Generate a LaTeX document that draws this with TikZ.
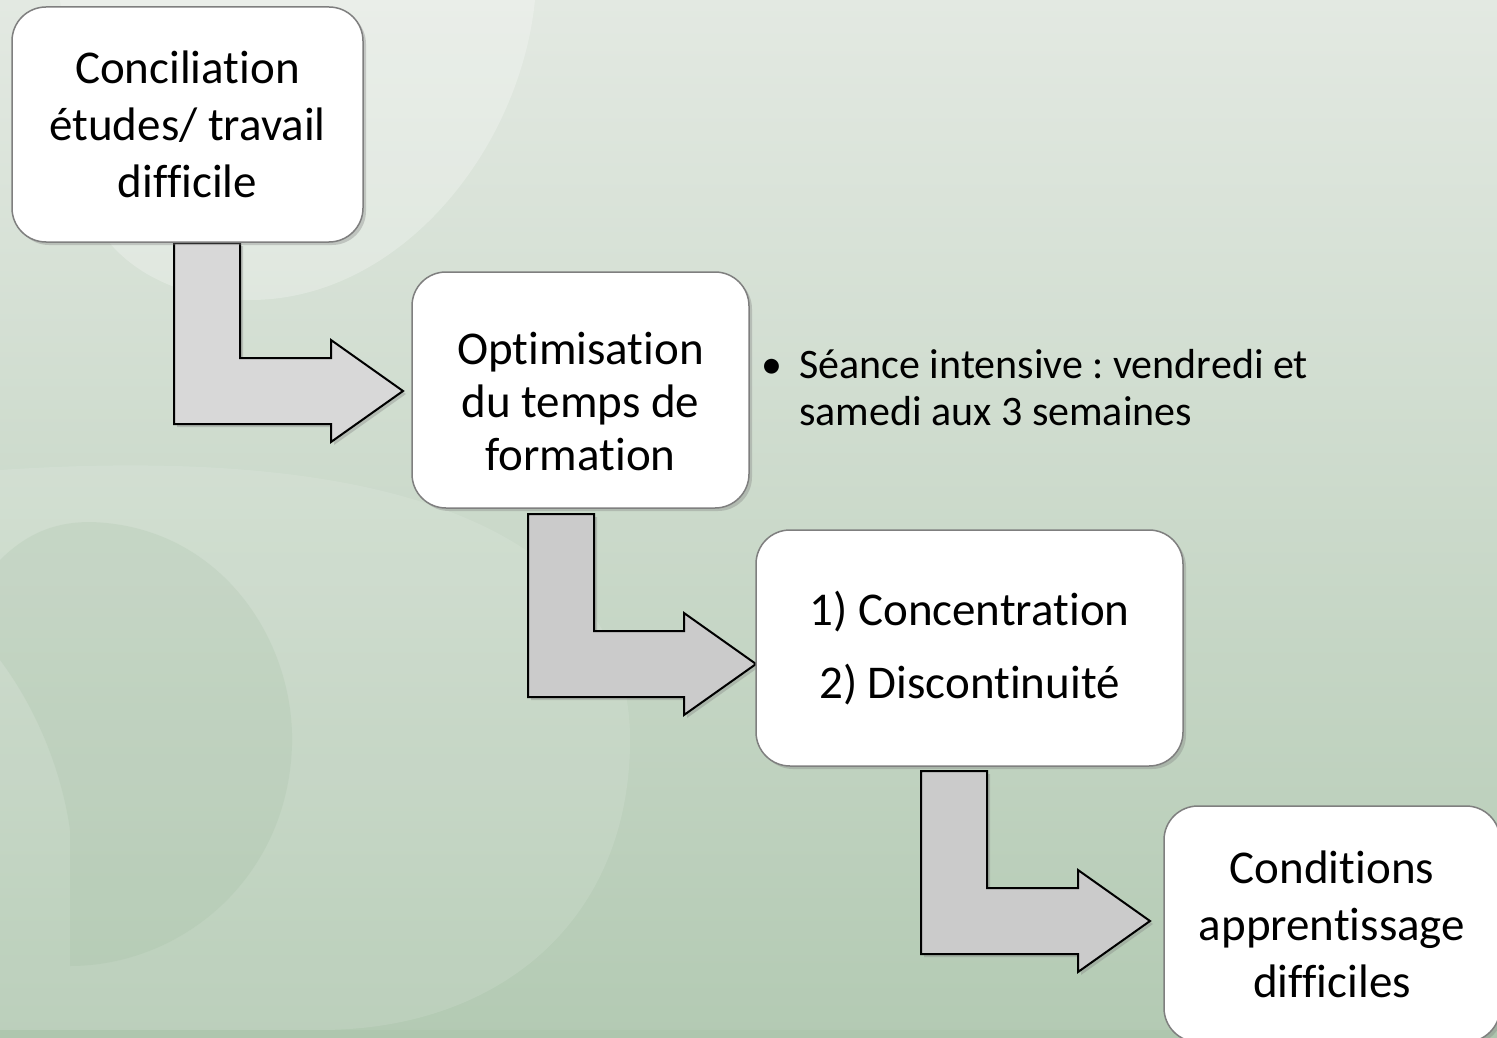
\documentclass[tikz,border=0pt]{standalone}
\usepackage{fontspec}
\setmainfont{Carlito}[Ligatures={NoCommon}]
\usetikzlibrary{shadows}
\definecolor{bgtop}{HTML}{E3E9E2}
\definecolor{bgbot}{HTML}{B3CAB3}
\definecolor{arrowgray}{HTML}{CBCBCB}
\definecolor{arrowlight}{HTML}{D8D8D8}
\definecolor{boxline}{HTML}{7F7F7F}
\definecolor{darkd}{HTML}{8FB08F}
\definecolor{strip}{HTML}{AEC6AE}
\frenchspacing
\tikzset{
  box/.style={draw=boxline, line width=1.5pt, fill=white, rounded corners=34pt,
    drop shadow={shadow xshift=3pt, shadow yshift=-3pt, opacity=0.35},
    inner sep=0pt, align=center, font=\fontsize{47}{57}\selectfont},
  boxtext/.style={inner sep=0pt, align=center, font=\fontsize{47}{53}\selectfont},
  bentarrow/.style={draw=black, line width=2pt, fill=arrowgray, line join=miter,
    drop shadow={shadow xshift=3pt, shadow yshift=-3pt, opacity=0.35}},
  notetext/.style={font=\fontsize{42}{48}\selectfont, inner sep=0pt, anchor=base west},
}
% #2 left x, #3 top y, #4 shaft centre y, #5 tip x
\newcommand\bentarr[5][]{%
  \draw[bentarrow,#1] (#2,#3) -- (#2+66,#3) -- (#2+66,#4-33) -- (#5-72,#4-33)
    -- (#5-72,#4-51) -- (#5,#4) -- (#5-72,#4+51) -- (#5-72,#4+33) -- (#2,#4+33) -- cycle;}
\begin{document}
\begin{tikzpicture}[x=1pt,y=-1pt]
\useasboundingbox (0,0) rectangle (1497,1038);
\begin{scope}
\clip (0,0) rectangle (1497,1038);
% background
\shade[top color=bgtop, bottom color=bgbot] (0,0) rectangle (1497,1038);
\fill[white, opacity=0.25] (60,0) -- (80,180) .. controls (95,260) and (170,300) .. (250,300)
  .. controls (400,300) and (520,150) .. (535,0) -- cycle;
\fill[white, opacity=0.11] (0,470) .. controls (450,440) and (630,560) .. (630,740)
  .. controls (630,920) and (500,1030) .. (320,1030) -- (0,1030) -- cycle;
\fill[darkd, opacity=0.14] (0,560) .. controls (30,530) and (60,522) .. (90,522)
  .. controls (220,525) and (295,640) .. (292,745) .. controls (288,880) and (180,966) .. (70,966)
  -- (70,830) .. controls (60,760) and (30,700) .. (0,660) -- cycle;
\fill[strip] (0,1030) rectangle (1497,1038);

% bent arrows
\bentarr[fill=arrowlight]{174}{243}{391}{403}
\bentarr{528}{514}{664}{756}
\bentarr{921}{771}{921}{1150}

% boxes
\node[box, minimum width=351pt, minimum height=235pt] (b1) at (187.5,124.5)
  {Conciliation\\études/ travail\\difficile};
\node[box, minimum width=337pt, minimum height=236pt] (b2) at (580.5,390) {};
\node[boxtext] (t2) at ([yshift=-12pt]b2.center)
  {Optimisation\\du temps de\\formation};
\node[box, minimum width=427pt, minimum height=236pt] (b3) at (969.5,648)
  {1) Concentration\\[16pt]2) Discontinuité};
\node[box, minimum width=336pt, minimum height=236pt] (b4) at (1332,924)
  {Conditions\\apprentissage\\difficiles};

% note beside box 2
\node[font=\fontsize{42}{48}\selectfont, inner sep=0pt, anchor=base] (bul) at (772,378) {•};
\node[notetext] (n1) at (799,378) {Séance intensive : vendredi et};
\node[notetext] (n2) at (799,425) {samedi aux 3 semaines};
\end{scope}
\end{tikzpicture}
\end{document}
